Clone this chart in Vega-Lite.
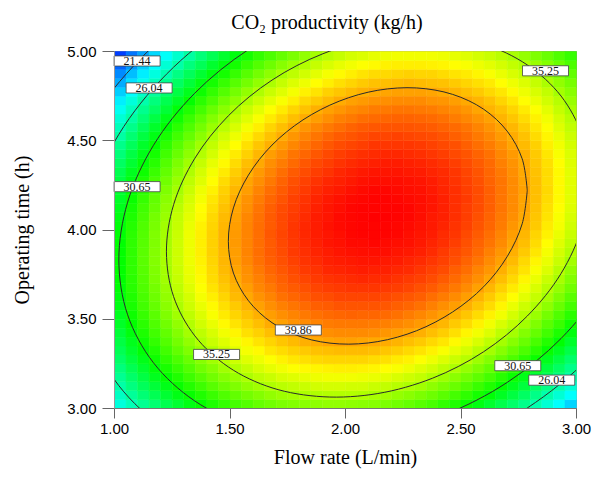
{
"$schema": "https://vega.github.io/schema/vega-lite/v6.json",
"width": 462, "height": 357,
"autosize": {"type": "none"},
"padding": {"left": 114, "top": 51, "right": 22, "bottom": 74},
"background": "white",
"title": {"text": "CO₂ productivity (kg/h)", "font": "Liberation Serif", "fontSize": 20, "fontWeight": "normal", "color": "#000", "anchor": "middle", "offset": 11, "dx": -18},
"config": {"view": {"stroke": "#999"}, "axis": {"grid": false}},
"datasets": {
"grid": [
{"x":1.025,"y":3.025,"v":24.7},{"x":1.075,"y":3.025,"v":25.7},{"x":1.125,"y":3.025,"v":26.7},{"x":1.175,"y":3.025,"v":27.6},{"x":1.225,"y":3.025,"v":28.5},{"x":1.275,"y":3.025,"v":29.3},{"x":1.325,"y":3.025,"v":30.1},{"x":1.375,"y":3.025,"v":30.7},{"x":1.425,"y":3.025,"v":31.4},{"x":1.475,"y":3.025,"v":32.0},{"x":1.525,"y":3.025,"v":32.5},{"x":1.575,"y":3.025,"v":32.9},{"x":1.625,"y":3.025,"v":33.4},{"x":1.675,"y":3.025,"v":33.7},{"x":1.725,"y":3.025,"v":34.0},{"x":1.775,"y":3.025,"v":34.2},{"x":1.825,"y":3.025,"v":34.4},{"x":1.875,"y":3.025,"v":34.5},{"x":1.925,"y":3.025,"v":34.6},{"x":1.975,"y":3.025,"v":34.6},{"x":2.025,"y":3.025,"v":34.5},{"x":2.075,"y":3.025,"v":34.4},{"x":2.125,"y":3.025,"v":34.3},{"x":2.175,"y":3.025,"v":34.0},{"x":2.225,"y":3.025,"v":33.7},{"x":2.275,"y":3.025,"v":33.4},{"x":2.325,"y":3.025,"v":33.0},{"x":2.375,"y":3.025,"v":32.6},{"x":2.425,"y":3.025,"v":32.0},{"x":2.475,"y":3.025,"v":31.5},{"x":2.525,"y":3.025,"v":30.9},{"x":2.575,"y":3.025,"v":30.2},{"x":2.625,"y":3.025,"v":29.4},{"x":2.675,"y":3.025,"v":28.6},{"x":2.725,"y":3.025,"v":27.8},{"x":2.775,"y":3.025,"v":26.9},{"x":2.825,"y":3.025,"v":25.9},{"x":2.875,"y":3.025,"v":24.9},{"x":2.925,"y":3.025,"v":23.8},{"x":2.975,"y":3.025,"v":22.6},
{"x":1.025,"y":3.075,"v":25.4},{"x":1.075,"y":3.075,"v":26.5},{"x":1.125,"y":3.075,"v":27.5},{"x":1.175,"y":3.075,"v":28.4},{"x":1.225,"y":3.075,"v":29.3},{"x":1.275,"y":3.075,"v":30.1},{"x":1.325,"y":3.075,"v":30.8},{"x":1.375,"y":3.075,"v":31.5},{"x":1.425,"y":3.075,"v":32.2},{"x":1.475,"y":3.075,"v":32.8},{"x":1.525,"y":3.075,"v":33.3},{"x":1.575,"y":3.075,"v":33.8},{"x":1.625,"y":3.075,"v":34.2},{"x":1.675,"y":3.075,"v":34.6},{"x":1.725,"y":3.075,"v":34.9},{"x":1.775,"y":3.075,"v":35.1},{"x":1.825,"y":3.075,"v":35.3},{"x":1.875,"y":3.075,"v":35.4},{"x":1.925,"y":3.075,"v":35.5},{"x":1.975,"y":3.075,"v":35.5},{"x":2.025,"y":3.075,"v":35.5},{"x":2.075,"y":3.075,"v":35.4},{"x":2.125,"y":3.075,"v":35.2},{"x":2.175,"y":3.075,"v":35.0},{"x":2.225,"y":3.075,"v":34.7},{"x":2.275,"y":3.075,"v":34.4},{"x":2.325,"y":3.075,"v":34.0},{"x":2.375,"y":3.075,"v":33.6},{"x":2.425,"y":3.075,"v":33.1},{"x":2.475,"y":3.075,"v":32.5},{"x":2.525,"y":3.075,"v":31.9},{"x":2.575,"y":3.075,"v":31.2},{"x":2.625,"y":3.075,"v":30.5},{"x":2.675,"y":3.075,"v":29.7},{"x":2.725,"y":3.075,"v":28.9},{"x":2.775,"y":3.075,"v":28.0},{"x":2.825,"y":3.075,"v":27.0},{"x":2.875,"y":3.075,"v":26.0},{"x":2.925,"y":3.075,"v":24.9},{"x":2.975,"y":3.075,"v":23.8},
{"x":1.025,"y":3.125,"v":26.1},{"x":1.075,"y":3.125,"v":27.2},{"x":1.125,"y":3.125,"v":28.2},{"x":1.175,"y":3.125,"v":29.1},{"x":1.225,"y":3.125,"v":30.0},{"x":1.275,"y":3.125,"v":30.8},{"x":1.325,"y":3.125,"v":31.6},{"x":1.375,"y":3.125,"v":32.3},{"x":1.425,"y":3.125,"v":33.0},{"x":1.475,"y":3.125,"v":33.6},{"x":1.525,"y":3.125,"v":34.1},{"x":1.575,"y":3.125,"v":34.6},{"x":1.625,"y":3.125,"v":35.0},{"x":1.675,"y":3.125,"v":35.4},{"x":1.725,"y":3.125,"v":35.7},{"x":1.775,"y":3.125,"v":35.9},{"x":1.825,"y":3.125,"v":36.1},{"x":1.875,"y":3.125,"v":36.3},{"x":1.925,"y":3.125,"v":36.4},{"x":1.975,"y":3.125,"v":36.4},{"x":2.025,"y":3.125,"v":36.3},{"x":2.075,"y":3.125,"v":36.3},{"x":2.125,"y":3.125,"v":36.1},{"x":2.175,"y":3.125,"v":35.9},{"x":2.225,"y":3.125,"v":35.6},{"x":2.275,"y":3.125,"v":35.3},{"x":2.325,"y":3.125,"v":35.0},{"x":2.375,"y":3.125,"v":34.5},{"x":2.425,"y":3.125,"v":34.0},{"x":2.475,"y":3.125,"v":33.5},{"x":2.525,"y":3.125,"v":32.9},{"x":2.575,"y":3.125,"v":32.2},{"x":2.625,"y":3.125,"v":31.5},{"x":2.675,"y":3.125,"v":30.7},{"x":2.725,"y":3.125,"v":29.9},{"x":2.775,"y":3.125,"v":29.0},{"x":2.825,"y":3.125,"v":28.0},{"x":2.875,"y":3.125,"v":27.0},{"x":2.925,"y":3.125,"v":26.0},{"x":2.975,"y":3.125,"v":24.9},
{"x":1.025,"y":3.175,"v":26.7},{"x":1.075,"y":3.175,"v":27.8},{"x":1.125,"y":3.175,"v":28.8},{"x":1.175,"y":3.175,"v":29.8},{"x":1.225,"y":3.175,"v":30.7},{"x":1.275,"y":3.175,"v":31.5},{"x":1.325,"y":3.175,"v":32.3},{"x":1.375,"y":3.175,"v":33.0},{"x":1.425,"y":3.175,"v":33.7},{"x":1.475,"y":3.175,"v":34.3},{"x":1.525,"y":3.175,"v":34.8},{"x":1.575,"y":3.175,"v":35.3},{"x":1.625,"y":3.175,"v":35.8},{"x":1.675,"y":3.175,"v":36.1},{"x":1.725,"y":3.175,"v":36.5},{"x":1.775,"y":3.175,"v":36.7},{"x":1.825,"y":3.175,"v":36.9},{"x":1.875,"y":3.175,"v":37.1},{"x":1.925,"y":3.175,"v":37.2},{"x":1.975,"y":3.175,"v":37.2},{"x":2.025,"y":3.175,"v":37.2},{"x":2.075,"y":3.175,"v":37.1},{"x":2.125,"y":3.175,"v":37.0},{"x":2.175,"y":3.175,"v":36.8},{"x":2.225,"y":3.175,"v":36.5},{"x":2.275,"y":3.175,"v":36.2},{"x":2.325,"y":3.175,"v":35.9},{"x":2.375,"y":3.175,"v":35.4},{"x":2.425,"y":3.175,"v":34.9},{"x":2.475,"y":3.175,"v":34.4},{"x":2.525,"y":3.175,"v":33.8},{"x":2.575,"y":3.175,"v":33.2},{"x":2.625,"y":3.175,"v":32.5},{"x":2.675,"y":3.175,"v":31.7},{"x":2.725,"y":3.175,"v":30.9},{"x":2.775,"y":3.175,"v":30.0},{"x":2.825,"y":3.175,"v":29.0},{"x":2.875,"y":3.175,"v":28.0},{"x":2.925,"y":3.175,"v":27.0},{"x":2.975,"y":3.175,"v":25.9},
{"x":1.025,"y":3.225,"v":27.3},{"x":1.075,"y":3.225,"v":28.4},{"x":1.125,"y":3.225,"v":29.4},{"x":1.175,"y":3.225,"v":30.4},{"x":1.225,"y":3.225,"v":31.3},{"x":1.275,"y":3.225,"v":32.1},{"x":1.325,"y":3.225,"v":32.9},{"x":1.375,"y":3.225,"v":33.7},{"x":1.425,"y":3.225,"v":34.3},{"x":1.475,"y":3.225,"v":35.0},{"x":1.525,"y":3.225,"v":35.5},{"x":1.575,"y":3.225,"v":36.0},{"x":1.625,"y":3.225,"v":36.5},{"x":1.675,"y":3.225,"v":36.9},{"x":1.725,"y":3.225,"v":37.2},{"x":1.775,"y":3.225,"v":37.5},{"x":1.825,"y":3.225,"v":37.7},{"x":1.875,"y":3.225,"v":37.8},{"x":1.925,"y":3.225,"v":37.9},{"x":1.975,"y":3.225,"v":38.0},{"x":2.025,"y":3.225,"v":38.0},{"x":2.075,"y":3.225,"v":37.9},{"x":2.125,"y":3.225,"v":37.8},{"x":2.175,"y":3.225,"v":37.6},{"x":2.225,"y":3.225,"v":37.4},{"x":2.275,"y":3.225,"v":37.1},{"x":2.325,"y":3.225,"v":36.7},{"x":2.375,"y":3.225,"v":36.3},{"x":2.425,"y":3.225,"v":35.8},{"x":2.475,"y":3.225,"v":35.3},{"x":2.525,"y":3.225,"v":34.7},{"x":2.575,"y":3.225,"v":34.1},{"x":2.625,"y":3.225,"v":33.4},{"x":2.675,"y":3.225,"v":32.6},{"x":2.725,"y":3.225,"v":31.8},{"x":2.775,"y":3.225,"v":30.9},{"x":2.825,"y":3.225,"v":30.0},{"x":2.875,"y":3.225,"v":29.0},{"x":2.925,"y":3.225,"v":28.0},{"x":2.975,"y":3.225,"v":26.9},
{"x":1.025,"y":3.275,"v":27.9},{"x":1.075,"y":3.275,"v":29.0},{"x":1.125,"y":3.275,"v":30.0},{"x":1.175,"y":3.275,"v":31.0},{"x":1.225,"y":3.275,"v":31.9},{"x":1.275,"y":3.275,"v":32.7},{"x":1.325,"y":3.275,"v":33.5},{"x":1.375,"y":3.275,"v":34.3},{"x":1.425,"y":3.275,"v":35.0},{"x":1.475,"y":3.275,"v":35.6},{"x":1.525,"y":3.275,"v":36.2},{"x":1.575,"y":3.275,"v":36.7},{"x":1.625,"y":3.275,"v":37.1},{"x":1.675,"y":3.275,"v":37.5},{"x":1.725,"y":3.275,"v":37.9},{"x":1.775,"y":3.275,"v":38.2},{"x":1.825,"y":3.275,"v":38.4},{"x":1.875,"y":3.275,"v":38.6},{"x":1.925,"y":3.275,"v":38.7},{"x":1.975,"y":3.275,"v":38.7},{"x":2.025,"y":3.275,"v":38.7},{"x":2.075,"y":3.275,"v":38.7},{"x":2.125,"y":3.275,"v":38.5},{"x":2.175,"y":3.275,"v":38.4},{"x":2.225,"y":3.275,"v":38.1},{"x":2.275,"y":3.275,"v":37.9},{"x":2.325,"y":3.275,"v":37.5},{"x":2.375,"y":3.275,"v":37.1},{"x":2.425,"y":3.275,"v":36.6},{"x":2.475,"y":3.275,"v":36.1},{"x":2.525,"y":3.275,"v":35.6},{"x":2.575,"y":3.275,"v":34.9},{"x":2.625,"y":3.275,"v":34.2},{"x":2.675,"y":3.275,"v":33.5},{"x":2.725,"y":3.275,"v":32.7},{"x":2.775,"y":3.275,"v":31.8},{"x":2.825,"y":3.275,"v":30.9},{"x":2.875,"y":3.275,"v":29.9},{"x":2.925,"y":3.275,"v":28.9},{"x":2.975,"y":3.275,"v":27.8},
{"x":1.025,"y":3.325,"v":28.4},{"x":1.075,"y":3.325,"v":29.5},{"x":1.125,"y":3.325,"v":30.5},{"x":1.175,"y":3.325,"v":31.5},{"x":1.225,"y":3.325,"v":32.4},{"x":1.275,"y":3.325,"v":33.3},{"x":1.325,"y":3.325,"v":34.1},{"x":1.375,"y":3.325,"v":34.8},{"x":1.425,"y":3.325,"v":35.5},{"x":1.475,"y":3.325,"v":36.2},{"x":1.525,"y":3.325,"v":36.8},{"x":1.575,"y":3.325,"v":37.3},{"x":1.625,"y":3.325,"v":37.7},{"x":1.675,"y":3.325,"v":38.2},{"x":1.725,"y":3.325,"v":38.5},{"x":1.775,"y":3.325,"v":38.8},{"x":1.825,"y":3.325,"v":39.0},{"x":1.875,"y":3.325,"v":39.2},{"x":1.925,"y":3.325,"v":39.3},{"x":1.975,"y":3.325,"v":39.4},{"x":2.025,"y":3.325,"v":39.4},{"x":2.075,"y":3.325,"v":39.4},{"x":2.125,"y":3.325,"v":39.3},{"x":2.175,"y":3.325,"v":39.1},{"x":2.225,"y":3.325,"v":38.9},{"x":2.275,"y":3.325,"v":38.6},{"x":2.325,"y":3.325,"v":38.3},{"x":2.375,"y":3.325,"v":37.9},{"x":2.425,"y":3.325,"v":37.4},{"x":2.475,"y":3.325,"v":36.9},{"x":2.525,"y":3.325,"v":36.4},{"x":2.575,"y":3.325,"v":35.7},{"x":2.625,"y":3.325,"v":35.1},{"x":2.675,"y":3.325,"v":34.3},{"x":2.725,"y":3.325,"v":33.5},{"x":2.775,"y":3.325,"v":32.7},{"x":2.825,"y":3.325,"v":31.8},{"x":2.875,"y":3.325,"v":30.8},{"x":2.925,"y":3.325,"v":29.8},{"x":2.975,"y":3.325,"v":28.7},
{"x":1.025,"y":3.375,"v":28.8},{"x":1.075,"y":3.375,"v":29.9},{"x":1.125,"y":3.375,"v":31.0},{"x":1.175,"y":3.375,"v":32.0},{"x":1.225,"y":3.375,"v":32.9},{"x":1.275,"y":3.375,"v":33.8},{"x":1.325,"y":3.375,"v":34.6},{"x":1.375,"y":3.375,"v":35.4},{"x":1.425,"y":3.375,"v":36.1},{"x":1.475,"y":3.375,"v":36.7},{"x":1.525,"y":3.375,"v":37.3},{"x":1.575,"y":3.375,"v":37.8},{"x":1.625,"y":3.375,"v":38.3},{"x":1.675,"y":3.375,"v":38.7},{"x":1.725,"y":3.375,"v":39.1},{"x":1.775,"y":3.375,"v":39.4},{"x":1.825,"y":3.375,"v":39.7},{"x":1.875,"y":3.375,"v":39.8},{"x":1.925,"y":3.375,"v":40.0},{"x":1.975,"y":3.375,"v":40.1},{"x":2.025,"y":3.375,"v":40.1},{"x":2.075,"y":3.375,"v":40.0},{"x":2.125,"y":3.375,"v":39.9},{"x":2.175,"y":3.375,"v":39.8},{"x":2.225,"y":3.375,"v":39.6},{"x":2.275,"y":3.375,"v":39.3},{"x":2.325,"y":3.375,"v":39.0},{"x":2.375,"y":3.375,"v":38.6},{"x":2.425,"y":3.375,"v":38.2},{"x":2.475,"y":3.375,"v":37.7},{"x":2.525,"y":3.375,"v":37.1},{"x":2.575,"y":3.375,"v":36.5},{"x":2.625,"y":3.375,"v":35.8},{"x":2.675,"y":3.375,"v":35.1},{"x":2.725,"y":3.375,"v":34.3},{"x":2.775,"y":3.375,"v":33.5},{"x":2.825,"y":3.375,"v":32.6},{"x":2.875,"y":3.375,"v":31.6},{"x":2.925,"y":3.375,"v":30.6},{"x":2.975,"y":3.375,"v":29.5},
{"x":1.025,"y":3.425,"v":29.2},{"x":1.075,"y":3.425,"v":30.3},{"x":1.125,"y":3.425,"v":31.4},{"x":1.175,"y":3.425,"v":32.4},{"x":1.225,"y":3.425,"v":33.3},{"x":1.275,"y":3.425,"v":34.2},{"x":1.325,"y":3.425,"v":35.1},{"x":1.375,"y":3.425,"v":35.8},{"x":1.425,"y":3.425,"v":36.5},{"x":1.475,"y":3.425,"v":37.2},{"x":1.525,"y":3.425,"v":37.8},{"x":1.575,"y":3.425,"v":38.4},{"x":1.625,"y":3.425,"v":38.8},{"x":1.675,"y":3.425,"v":39.3},{"x":1.725,"y":3.425,"v":39.6},{"x":1.775,"y":3.425,"v":40.0},{"x":1.825,"y":3.425,"v":40.2},{"x":1.875,"y":3.425,"v":40.4},{"x":1.925,"y":3.425,"v":40.6},{"x":1.975,"y":3.425,"v":40.7},{"x":2.025,"y":3.425,"v":40.7},{"x":2.075,"y":3.425,"v":40.7},{"x":2.125,"y":3.425,"v":40.6},{"x":2.175,"y":3.425,"v":40.4},{"x":2.225,"y":3.425,"v":40.2},{"x":2.275,"y":3.425,"v":40.0},{"x":2.325,"y":3.425,"v":39.7},{"x":2.375,"y":3.425,"v":39.3},{"x":2.425,"y":3.425,"v":38.9},{"x":2.475,"y":3.425,"v":38.4},{"x":2.525,"y":3.425,"v":37.8},{"x":2.575,"y":3.425,"v":37.2},{"x":2.625,"y":3.425,"v":36.6},{"x":2.675,"y":3.425,"v":35.8},{"x":2.725,"y":3.425,"v":35.1},{"x":2.775,"y":3.425,"v":34.2},{"x":2.825,"y":3.425,"v":33.4},{"x":2.875,"y":3.425,"v":32.4},{"x":2.925,"y":3.425,"v":31.4},{"x":2.975,"y":3.425,"v":30.3},
{"x":1.025,"y":3.475,"v":29.6},{"x":1.075,"y":3.475,"v":30.7},{"x":1.125,"y":3.475,"v":31.8},{"x":1.175,"y":3.475,"v":32.8},{"x":1.225,"y":3.475,"v":33.7},{"x":1.275,"y":3.475,"v":34.6},{"x":1.325,"y":3.475,"v":35.5},{"x":1.375,"y":3.475,"v":36.3},{"x":1.425,"y":3.475,"v":37.0},{"x":1.475,"y":3.475,"v":37.7},{"x":1.525,"y":3.475,"v":38.3},{"x":1.575,"y":3.475,"v":38.8},{"x":1.625,"y":3.475,"v":39.3},{"x":1.675,"y":3.475,"v":39.8},{"x":1.725,"y":3.475,"v":40.1},{"x":1.775,"y":3.475,"v":40.5},{"x":1.825,"y":3.475,"v":40.7},{"x":1.875,"y":3.475,"v":40.9},{"x":1.925,"y":3.475,"v":41.1},{"x":1.975,"y":3.475,"v":41.2},{"x":2.025,"y":3.475,"v":41.2},{"x":2.075,"y":3.475,"v":41.2},{"x":2.125,"y":3.475,"v":41.1},{"x":2.175,"y":3.475,"v":41.0},{"x":2.225,"y":3.475,"v":40.8},{"x":2.275,"y":3.475,"v":40.6},{"x":2.325,"y":3.475,"v":40.3},{"x":2.375,"y":3.475,"v":39.9},{"x":2.425,"y":3.475,"v":39.5},{"x":2.475,"y":3.475,"v":39.0},{"x":2.525,"y":3.475,"v":38.5},{"x":2.575,"y":3.475,"v":37.9},{"x":2.625,"y":3.475,"v":37.2},{"x":2.675,"y":3.475,"v":36.5},{"x":2.725,"y":3.475,"v":35.8},{"x":2.775,"y":3.475,"v":35.0},{"x":2.825,"y":3.475,"v":34.1},{"x":2.875,"y":3.475,"v":33.1},{"x":2.925,"y":3.475,"v":32.2},{"x":2.975,"y":3.475,"v":31.1},
{"x":1.025,"y":3.525,"v":29.9},{"x":1.075,"y":3.525,"v":31.0},{"x":1.125,"y":3.525,"v":32.1},{"x":1.175,"y":3.525,"v":33.1},{"x":1.225,"y":3.525,"v":34.1},{"x":1.275,"y":3.525,"v":35.0},{"x":1.325,"y":3.525,"v":35.8},{"x":1.375,"y":3.525,"v":36.6},{"x":1.425,"y":3.525,"v":37.4},{"x":1.475,"y":3.525,"v":38.1},{"x":1.525,"y":3.525,"v":38.7},{"x":1.575,"y":3.525,"v":39.2},{"x":1.625,"y":3.525,"v":39.7},{"x":1.675,"y":3.525,"v":40.2},{"x":1.725,"y":3.525,"v":40.6},{"x":1.775,"y":3.525,"v":40.9},{"x":1.825,"y":3.525,"v":41.2},{"x":1.875,"y":3.525,"v":41.4},{"x":1.925,"y":3.525,"v":41.6},{"x":1.975,"y":3.525,"v":41.7},{"x":2.025,"y":3.525,"v":41.8},{"x":2.075,"y":3.525,"v":41.7},{"x":2.125,"y":3.525,"v":41.7},{"x":2.175,"y":3.525,"v":41.6},{"x":2.225,"y":3.525,"v":41.4},{"x":2.275,"y":3.525,"v":41.1},{"x":2.325,"y":3.525,"v":40.8},{"x":2.375,"y":3.525,"v":40.5},{"x":2.425,"y":3.525,"v":40.1},{"x":2.475,"y":3.525,"v":39.6},{"x":2.525,"y":3.525,"v":39.1},{"x":2.575,"y":3.525,"v":38.5},{"x":2.625,"y":3.525,"v":37.9},{"x":2.675,"y":3.525,"v":37.2},{"x":2.725,"y":3.525,"v":36.4},{"x":2.775,"y":3.525,"v":35.6},{"x":2.825,"y":3.525,"v":34.8},{"x":2.875,"y":3.525,"v":33.8},{"x":2.925,"y":3.525,"v":32.8},{"x":2.975,"y":3.525,"v":31.8},
{"x":1.025,"y":3.575,"v":30.1},{"x":1.075,"y":3.575,"v":31.3},{"x":1.125,"y":3.575,"v":32.4},{"x":1.175,"y":3.575,"v":33.4},{"x":1.225,"y":3.575,"v":34.4},{"x":1.275,"y":3.575,"v":35.3},{"x":1.325,"y":3.575,"v":36.2},{"x":1.375,"y":3.575,"v":37.0},{"x":1.425,"y":3.575,"v":37.7},{"x":1.475,"y":3.575,"v":38.4},{"x":1.525,"y":3.575,"v":39.0},{"x":1.575,"y":3.575,"v":39.6},{"x":1.625,"y":3.575,"v":40.1},{"x":1.675,"y":3.575,"v":40.6},{"x":1.725,"y":3.575,"v":41.0},{"x":1.775,"y":3.575,"v":41.3},{"x":1.825,"y":3.575,"v":41.6},{"x":1.875,"y":3.575,"v":41.9},{"x":1.925,"y":3.575,"v":42.0},{"x":1.975,"y":3.575,"v":42.2},{"x":2.025,"y":3.575,"v":42.2},{"x":2.075,"y":3.575,"v":42.2},{"x":2.125,"y":3.575,"v":42.2},{"x":2.175,"y":3.575,"v":42.1},{"x":2.225,"y":3.575,"v":41.9},{"x":2.275,"y":3.575,"v":41.7},{"x":2.325,"y":3.575,"v":41.4},{"x":2.375,"y":3.575,"v":41.0},{"x":2.425,"y":3.575,"v":40.6},{"x":2.475,"y":3.575,"v":40.2},{"x":2.525,"y":3.575,"v":39.7},{"x":2.575,"y":3.575,"v":39.1},{"x":2.625,"y":3.575,"v":38.5},{"x":2.675,"y":3.575,"v":37.8},{"x":2.725,"y":3.575,"v":37.0},{"x":2.775,"y":3.575,"v":36.2},{"x":2.825,"y":3.575,"v":35.4},{"x":2.875,"y":3.575,"v":34.5},{"x":2.925,"y":3.575,"v":33.5},{"x":2.975,"y":3.575,"v":32.5},
{"x":1.025,"y":3.625,"v":30.3},{"x":1.075,"y":3.625,"v":31.5},{"x":1.125,"y":3.625,"v":32.6},{"x":1.175,"y":3.625,"v":33.6},{"x":1.225,"y":3.625,"v":34.6},{"x":1.275,"y":3.625,"v":35.6},{"x":1.325,"y":3.625,"v":36.4},{"x":1.375,"y":3.625,"v":37.3},{"x":1.425,"y":3.625,"v":38.0},{"x":1.475,"y":3.625,"v":38.7},{"x":1.525,"y":3.625,"v":39.4},{"x":1.575,"y":3.625,"v":39.9},{"x":1.625,"y":3.625,"v":40.5},{"x":1.675,"y":3.625,"v":40.9},{"x":1.725,"y":3.625,"v":41.4},{"x":1.775,"y":3.625,"v":41.7},{"x":1.825,"y":3.625,"v":42.0},{"x":1.875,"y":3.625,"v":42.3},{"x":1.925,"y":3.625,"v":42.4},{"x":1.975,"y":3.625,"v":42.6},{"x":2.025,"y":3.625,"v":42.6},{"x":2.075,"y":3.625,"v":42.6},{"x":2.125,"y":3.625,"v":42.6},{"x":2.175,"y":3.625,"v":42.5},{"x":2.225,"y":3.625,"v":42.3},{"x":2.275,"y":3.625,"v":42.1},{"x":2.325,"y":3.625,"v":41.9},{"x":2.375,"y":3.625,"v":41.5},{"x":2.425,"y":3.625,"v":41.1},{"x":2.475,"y":3.625,"v":40.7},{"x":2.525,"y":3.625,"v":40.2},{"x":2.575,"y":3.625,"v":39.6},{"x":2.625,"y":3.625,"v":39.0},{"x":2.675,"y":3.625,"v":38.3},{"x":2.725,"y":3.625,"v":37.6},{"x":2.775,"y":3.625,"v":36.8},{"x":2.825,"y":3.625,"v":36.0},{"x":2.875,"y":3.625,"v":35.1},{"x":2.925,"y":3.625,"v":34.1},{"x":2.975,"y":3.625,"v":33.1},
{"x":1.025,"y":3.675,"v":30.5},{"x":1.075,"y":3.675,"v":31.7},{"x":1.125,"y":3.675,"v":32.8},{"x":1.175,"y":3.675,"v":33.8},{"x":1.225,"y":3.675,"v":34.8},{"x":1.275,"y":3.675,"v":35.8},{"x":1.325,"y":3.675,"v":36.7},{"x":1.375,"y":3.675,"v":37.5},{"x":1.425,"y":3.675,"v":38.3},{"x":1.475,"y":3.675,"v":39.0},{"x":1.525,"y":3.675,"v":39.6},{"x":1.575,"y":3.675,"v":40.2},{"x":1.625,"y":3.675,"v":40.8},{"x":1.675,"y":3.675,"v":41.2},{"x":1.725,"y":3.675,"v":41.7},{"x":1.775,"y":3.675,"v":42.0},{"x":1.825,"y":3.675,"v":42.3},{"x":1.875,"y":3.675,"v":42.6},{"x":1.925,"y":3.675,"v":42.8},{"x":1.975,"y":3.675,"v":42.9},{"x":2.025,"y":3.675,"v":43.0},{"x":2.075,"y":3.675,"v":43.0},{"x":2.125,"y":3.675,"v":43.0},{"x":2.175,"y":3.675,"v":42.9},{"x":2.225,"y":3.675,"v":42.8},{"x":2.275,"y":3.675,"v":42.6},{"x":2.325,"y":3.675,"v":42.3},{"x":2.375,"y":3.675,"v":42.0},{"x":2.425,"y":3.675,"v":41.6},{"x":2.475,"y":3.675,"v":41.2},{"x":2.525,"y":3.675,"v":40.7},{"x":2.575,"y":3.675,"v":40.1},{"x":2.625,"y":3.675,"v":39.5},{"x":2.675,"y":3.675,"v":38.8},{"x":2.725,"y":3.675,"v":38.1},{"x":2.775,"y":3.675,"v":37.3},{"x":2.825,"y":3.675,"v":36.5},{"x":2.875,"y":3.675,"v":35.6},{"x":2.925,"y":3.675,"v":34.7},{"x":2.975,"y":3.675,"v":33.7},
{"x":1.025,"y":3.725,"v":30.6},{"x":1.075,"y":3.725,"v":31.8},{"x":1.125,"y":3.725,"v":32.9},{"x":1.175,"y":3.725,"v":34.0},{"x":1.225,"y":3.725,"v":35.0},{"x":1.275,"y":3.725,"v":36.0},{"x":1.325,"y":3.725,"v":36.9},{"x":1.375,"y":3.725,"v":37.7},{"x":1.425,"y":3.725,"v":38.5},{"x":1.475,"y":3.725,"v":39.2},{"x":1.525,"y":3.725,"v":39.8},{"x":1.575,"y":3.725,"v":40.5},{"x":1.625,"y":3.725,"v":41.0},{"x":1.675,"y":3.725,"v":41.5},{"x":1.725,"y":3.725,"v":41.9},{"x":1.775,"y":3.725,"v":42.3},{"x":1.825,"y":3.725,"v":42.6},{"x":1.875,"y":3.725,"v":42.9},{"x":1.925,"y":3.725,"v":43.1},{"x":1.975,"y":3.725,"v":43.2},{"x":2.025,"y":3.725,"v":43.3},{"x":2.075,"y":3.725,"v":43.4},{"x":2.125,"y":3.725,"v":43.3},{"x":2.175,"y":3.725,"v":43.3},{"x":2.225,"y":3.725,"v":43.1},{"x":2.275,"y":3.725,"v":42.9},{"x":2.325,"y":3.725,"v":42.7},{"x":2.375,"y":3.725,"v":42.4},{"x":2.425,"y":3.725,"v":42.0},{"x":2.475,"y":3.725,"v":41.6},{"x":2.525,"y":3.725,"v":41.1},{"x":2.575,"y":3.725,"v":40.6},{"x":2.625,"y":3.725,"v":40.0},{"x":2.675,"y":3.725,"v":39.3},{"x":2.725,"y":3.725,"v":38.6},{"x":2.775,"y":3.725,"v":37.8},{"x":2.825,"y":3.725,"v":37.0},{"x":2.875,"y":3.725,"v":36.1},{"x":2.925,"y":3.725,"v":35.2},{"x":2.975,"y":3.725,"v":34.2},
{"x":1.025,"y":3.775,"v":30.7},{"x":1.075,"y":3.775,"v":31.9},{"x":1.125,"y":3.775,"v":33.0},{"x":1.175,"y":3.775,"v":34.1},{"x":1.225,"y":3.775,"v":35.1},{"x":1.275,"y":3.775,"v":36.1},{"x":1.325,"y":3.775,"v":37.0},{"x":1.375,"y":3.775,"v":37.8},{"x":1.425,"y":3.775,"v":38.6},{"x":1.475,"y":3.775,"v":39.4},{"x":1.525,"y":3.775,"v":40.0},{"x":1.575,"y":3.775,"v":40.6},{"x":1.625,"y":3.775,"v":41.2},{"x":1.675,"y":3.775,"v":41.7},{"x":1.725,"y":3.775,"v":42.1},{"x":1.775,"y":3.775,"v":42.5},{"x":1.825,"y":3.775,"v":42.9},{"x":1.875,"y":3.775,"v":43.1},{"x":1.925,"y":3.775,"v":43.4},{"x":1.975,"y":3.775,"v":43.5},{"x":2.025,"y":3.775,"v":43.6},{"x":2.075,"y":3.775,"v":43.7},{"x":2.125,"y":3.775,"v":43.6},{"x":2.175,"y":3.775,"v":43.6},{"x":2.225,"y":3.775,"v":43.4},{"x":2.275,"y":3.775,"v":43.3},{"x":2.325,"y":3.775,"v":43.0},{"x":2.375,"y":3.775,"v":42.7},{"x":2.425,"y":3.775,"v":42.4},{"x":2.475,"y":3.775,"v":41.9},{"x":2.525,"y":3.775,"v":41.5},{"x":2.575,"y":3.775,"v":40.9},{"x":2.625,"y":3.775,"v":40.4},{"x":2.675,"y":3.775,"v":39.7},{"x":2.725,"y":3.775,"v":39.0},{"x":2.775,"y":3.775,"v":38.3},{"x":2.825,"y":3.775,"v":37.4},{"x":2.875,"y":3.775,"v":36.6},{"x":2.925,"y":3.775,"v":35.6},{"x":2.975,"y":3.775,"v":34.6},
{"x":1.025,"y":3.825,"v":30.7},{"x":1.075,"y":3.825,"v":31.9},{"x":1.125,"y":3.825,"v":33.1},{"x":1.175,"y":3.825,"v":34.2},{"x":1.225,"y":3.825,"v":35.2},{"x":1.275,"y":3.825,"v":36.2},{"x":1.325,"y":3.825,"v":37.1},{"x":1.375,"y":3.825,"v":37.9},{"x":1.425,"y":3.825,"v":38.7},{"x":1.475,"y":3.825,"v":39.5},{"x":1.525,"y":3.825,"v":40.2},{"x":1.575,"y":3.825,"v":40.8},{"x":1.625,"y":3.825,"v":41.4},{"x":1.675,"y":3.825,"v":41.9},{"x":1.725,"y":3.825,"v":42.3},{"x":1.775,"y":3.825,"v":42.7},{"x":1.825,"y":3.825,"v":43.1},{"x":1.875,"y":3.825,"v":43.3},{"x":1.925,"y":3.825,"v":43.6},{"x":1.975,"y":3.825,"v":43.7},{"x":2.025,"y":3.825,"v":43.8},{"x":2.075,"y":3.825,"v":43.9},{"x":2.125,"y":3.825,"v":43.9},{"x":2.175,"y":3.825,"v":43.8},{"x":2.225,"y":3.825,"v":43.7},{"x":2.275,"y":3.825,"v":43.5},{"x":2.325,"y":3.825,"v":43.3},{"x":2.375,"y":3.825,"v":43.0},{"x":2.425,"y":3.825,"v":42.7},{"x":2.475,"y":3.825,"v":42.3},{"x":2.525,"y":3.825,"v":41.8},{"x":2.575,"y":3.825,"v":41.3},{"x":2.625,"y":3.825,"v":40.7},{"x":2.675,"y":3.825,"v":40.1},{"x":2.725,"y":3.825,"v":39.4},{"x":2.775,"y":3.825,"v":38.6},{"x":2.825,"y":3.825,"v":37.8},{"x":2.875,"y":3.825,"v":37.0},{"x":2.925,"y":3.825,"v":36.1},{"x":2.975,"y":3.825,"v":35.1},
{"x":1.025,"y":3.875,"v":30.7},{"x":1.075,"y":3.875,"v":31.9},{"x":1.125,"y":3.875,"v":33.1},{"x":1.175,"y":3.875,"v":34.2},{"x":1.225,"y":3.875,"v":35.2},{"x":1.275,"y":3.875,"v":36.2},{"x":1.325,"y":3.875,"v":37.1},{"x":1.375,"y":3.875,"v":38.0},{"x":1.425,"y":3.875,"v":38.8},{"x":1.475,"y":3.875,"v":39.5},{"x":1.525,"y":3.875,"v":40.2},{"x":1.575,"y":3.875,"v":40.9},{"x":1.625,"y":3.875,"v":41.5},{"x":1.675,"y":3.875,"v":42.0},{"x":1.725,"y":3.875,"v":42.4},{"x":1.775,"y":3.875,"v":42.9},{"x":1.825,"y":3.875,"v":43.2},{"x":1.875,"y":3.875,"v":43.5},{"x":1.925,"y":3.875,"v":43.7},{"x":1.975,"y":3.875,"v":43.9},{"x":2.025,"y":3.875,"v":44.0},{"x":2.075,"y":3.875,"v":44.1},{"x":2.125,"y":3.875,"v":44.1},{"x":2.175,"y":3.875,"v":44.1},{"x":2.225,"y":3.875,"v":43.9},{"x":2.275,"y":3.875,"v":43.8},{"x":2.325,"y":3.875,"v":43.6},{"x":2.375,"y":3.875,"v":43.3},{"x":2.425,"y":3.875,"v":42.9},{"x":2.475,"y":3.875,"v":42.5},{"x":2.525,"y":3.875,"v":42.1},{"x":2.575,"y":3.875,"v":41.6},{"x":2.625,"y":3.875,"v":41.0},{"x":2.675,"y":3.875,"v":40.4},{"x":2.725,"y":3.875,"v":39.7},{"x":2.775,"y":3.875,"v":39.0},{"x":2.825,"y":3.875,"v":38.2},{"x":2.875,"y":3.875,"v":37.3},{"x":2.925,"y":3.875,"v":36.4},{"x":2.975,"y":3.875,"v":35.5},
{"x":1.025,"y":3.925,"v":30.6},{"x":1.075,"y":3.925,"v":31.9},{"x":1.125,"y":3.925,"v":33.0},{"x":1.175,"y":3.925,"v":34.1},{"x":1.225,"y":3.925,"v":35.2},{"x":1.275,"y":3.925,"v":36.2},{"x":1.325,"y":3.925,"v":37.1},{"x":1.375,"y":3.925,"v":38.0},{"x":1.425,"y":3.925,"v":38.8},{"x":1.475,"y":3.925,"v":39.6},{"x":1.525,"y":3.925,"v":40.3},{"x":1.575,"y":3.925,"v":40.9},{"x":1.625,"y":3.925,"v":41.5},{"x":1.675,"y":3.925,"v":42.0},{"x":1.725,"y":3.925,"v":42.5},{"x":1.775,"y":3.925,"v":42.9},{"x":1.825,"y":3.925,"v":43.3},{"x":1.875,"y":3.925,"v":43.6},{"x":1.925,"y":3.925,"v":43.9},{"x":1.975,"y":3.925,"v":44.0},{"x":2.025,"y":3.925,"v":44.2},{"x":2.075,"y":3.925,"v":44.2},{"x":2.125,"y":3.925,"v":44.3},{"x":2.175,"y":3.925,"v":44.2},{"x":2.225,"y":3.925,"v":44.1},{"x":2.275,"y":3.925,"v":44.0},{"x":2.325,"y":3.925,"v":43.8},{"x":2.375,"y":3.925,"v":43.5},{"x":2.425,"y":3.925,"v":43.2},{"x":2.475,"y":3.925,"v":42.8},{"x":2.525,"y":3.925,"v":42.3},{"x":2.575,"y":3.925,"v":41.8},{"x":2.625,"y":3.925,"v":41.3},{"x":2.675,"y":3.925,"v":40.7},{"x":2.725,"y":3.925,"v":40.0},{"x":2.775,"y":3.925,"v":39.3},{"x":2.825,"y":3.925,"v":38.5},{"x":2.875,"y":3.925,"v":37.6},{"x":2.925,"y":3.925,"v":36.7},{"x":2.975,"y":3.925,"v":35.8},
{"x":1.025,"y":3.975,"v":30.5},{"x":1.075,"y":3.975,"v":31.8},{"x":1.125,"y":3.975,"v":32.9},{"x":1.175,"y":3.975,"v":34.1},{"x":1.225,"y":3.975,"v":35.1},{"x":1.275,"y":3.975,"v":36.1},{"x":1.325,"y":3.975,"v":37.1},{"x":1.375,"y":3.975,"v":38.0},{"x":1.425,"y":3.975,"v":38.8},{"x":1.475,"y":3.975,"v":39.6},{"x":1.525,"y":3.975,"v":40.3},{"x":1.575,"y":3.975,"v":40.9},{"x":1.625,"y":3.975,"v":41.5},{"x":1.675,"y":3.975,"v":42.1},{"x":1.725,"y":3.975,"v":42.6},{"x":1.775,"y":3.975,"v":43.0},{"x":1.825,"y":3.975,"v":43.4},{"x":1.875,"y":3.975,"v":43.7},{"x":1.925,"y":3.975,"v":43.9},{"x":1.975,"y":3.975,"v":44.1},{"x":2.025,"y":3.975,"v":44.3},{"x":2.075,"y":3.975,"v":44.4},{"x":2.125,"y":3.975,"v":44.4},{"x":2.175,"y":3.975,"v":44.4},{"x":2.225,"y":3.975,"v":44.3},{"x":2.275,"y":3.975,"v":44.1},{"x":2.325,"y":3.975,"v":43.9},{"x":2.375,"y":3.975,"v":43.7},{"x":2.425,"y":3.975,"v":43.3},{"x":2.475,"y":3.975,"v":43.0},{"x":2.525,"y":3.975,"v":42.5},{"x":2.575,"y":3.975,"v":42.0},{"x":2.625,"y":3.975,"v":41.5},{"x":2.675,"y":3.975,"v":40.9},{"x":2.725,"y":3.975,"v":40.2},{"x":2.775,"y":3.975,"v":39.5},{"x":2.825,"y":3.975,"v":38.7},{"x":2.875,"y":3.975,"v":37.9},{"x":2.925,"y":3.975,"v":37.0},{"x":2.975,"y":3.975,"v":36.1},
{"x":1.025,"y":4.025,"v":30.4},{"x":1.075,"y":4.025,"v":31.6},{"x":1.125,"y":4.025,"v":32.8},{"x":1.175,"y":4.025,"v":33.9},{"x":1.225,"y":4.025,"v":35.0},{"x":1.275,"y":4.025,"v":36.0},{"x":1.325,"y":4.025,"v":37.0},{"x":1.375,"y":4.025,"v":37.9},{"x":1.425,"y":4.025,"v":38.7},{"x":1.475,"y":4.025,"v":39.5},{"x":1.525,"y":4.025,"v":40.2},{"x":1.575,"y":4.025,"v":40.9},{"x":1.625,"y":4.025,"v":41.5},{"x":1.675,"y":4.025,"v":42.0},{"x":1.725,"y":4.025,"v":42.5},{"x":1.775,"y":4.025,"v":43.0},{"x":1.825,"y":4.025,"v":43.4},{"x":1.875,"y":4.025,"v":43.7},{"x":1.925,"y":4.025,"v":44.0},{"x":1.975,"y":4.025,"v":44.2},{"x":2.025,"y":4.025,"v":44.3},{"x":2.075,"y":4.025,"v":44.4},{"x":2.125,"y":4.025,"v":44.4},{"x":2.175,"y":4.025,"v":44.4},{"x":2.225,"y":4.025,"v":44.3},{"x":2.275,"y":4.025,"v":44.2},{"x":2.325,"y":4.025,"v":44.0},{"x":2.375,"y":4.025,"v":43.8},{"x":2.425,"y":4.025,"v":43.5},{"x":2.475,"y":4.025,"v":43.1},{"x":2.525,"y":4.025,"v":42.7},{"x":2.575,"y":4.025,"v":42.2},{"x":2.625,"y":4.025,"v":41.7},{"x":2.675,"y":4.025,"v":41.1},{"x":2.725,"y":4.025,"v":40.4},{"x":2.775,"y":4.025,"v":39.7},{"x":2.825,"y":4.025,"v":39.0},{"x":2.875,"y":4.025,"v":38.1},{"x":2.925,"y":4.025,"v":37.3},{"x":2.975,"y":4.025,"v":36.3},
{"x":1.025,"y":4.075,"v":30.2},{"x":1.075,"y":4.075,"v":31.4},{"x":1.125,"y":4.075,"v":32.6},{"x":1.175,"y":4.075,"v":33.8},{"x":1.225,"y":4.075,"v":34.8},{"x":1.275,"y":4.075,"v":35.9},{"x":1.325,"y":4.075,"v":36.8},{"x":1.375,"y":4.075,"v":37.7},{"x":1.425,"y":4.075,"v":38.6},{"x":1.475,"y":4.075,"v":39.4},{"x":1.525,"y":4.075,"v":40.1},{"x":1.575,"y":4.075,"v":40.8},{"x":1.625,"y":4.075,"v":41.4},{"x":1.675,"y":4.075,"v":42.0},{"x":1.725,"y":4.075,"v":42.5},{"x":1.775,"y":4.075,"v":42.9},{"x":1.825,"y":4.075,"v":43.3},{"x":1.875,"y":4.075,"v":43.7},{"x":1.925,"y":4.075,"v":43.9},{"x":1.975,"y":4.075,"v":44.2},{"x":2.025,"y":4.075,"v":44.3},{"x":2.075,"y":4.075,"v":44.4},{"x":2.125,"y":4.075,"v":44.5},{"x":2.175,"y":4.075,"v":44.5},{"x":2.225,"y":4.075,"v":44.4},{"x":2.275,"y":4.075,"v":44.3},{"x":2.325,"y":4.075,"v":44.1},{"x":2.375,"y":4.075,"v":43.8},{"x":2.425,"y":4.075,"v":43.6},{"x":2.475,"y":4.075,"v":43.2},{"x":2.525,"y":4.075,"v":42.8},{"x":2.575,"y":4.075,"v":42.3},{"x":2.625,"y":4.075,"v":41.8},{"x":2.675,"y":4.075,"v":41.2},{"x":2.725,"y":4.075,"v":40.6},{"x":2.775,"y":4.075,"v":39.9},{"x":2.825,"y":4.075,"v":39.1},{"x":2.875,"y":4.075,"v":38.3},{"x":2.925,"y":4.075,"v":37.4},{"x":2.975,"y":4.075,"v":36.5},
{"x":1.025,"y":4.125,"v":29.9},{"x":1.075,"y":4.125,"v":31.2},{"x":1.125,"y":4.125,"v":32.4},{"x":1.175,"y":4.125,"v":33.5},{"x":1.225,"y":4.125,"v":34.6},{"x":1.275,"y":4.125,"v":35.7},{"x":1.325,"y":4.125,"v":36.6},{"x":1.375,"y":4.125,"v":37.6},{"x":1.425,"y":4.125,"v":38.4},{"x":1.475,"y":4.125,"v":39.2},{"x":1.525,"y":4.125,"v":40.0},{"x":1.575,"y":4.125,"v":40.6},{"x":1.625,"y":4.125,"v":41.3},{"x":1.675,"y":4.125,"v":41.9},{"x":1.725,"y":4.125,"v":42.4},{"x":1.775,"y":4.125,"v":42.8},{"x":1.825,"y":4.125,"v":43.2},{"x":1.875,"y":4.125,"v":43.6},{"x":1.925,"y":4.125,"v":43.9},{"x":1.975,"y":4.125,"v":44.1},{"x":2.025,"y":4.125,"v":44.3},{"x":2.075,"y":4.125,"v":44.4},{"x":2.125,"y":4.125,"v":44.4},{"x":2.175,"y":4.125,"v":44.4},{"x":2.225,"y":4.125,"v":44.4},{"x":2.275,"y":4.125,"v":44.3},{"x":2.325,"y":4.125,"v":44.1},{"x":2.375,"y":4.125,"v":43.9},{"x":2.425,"y":4.125,"v":43.6},{"x":2.475,"y":4.125,"v":43.2},{"x":2.525,"y":4.125,"v":42.8},{"x":2.575,"y":4.125,"v":42.4},{"x":2.625,"y":4.125,"v":41.9},{"x":2.675,"y":4.125,"v":41.3},{"x":2.725,"y":4.125,"v":40.7},{"x":2.775,"y":4.125,"v":40.0},{"x":2.825,"y":4.125,"v":39.2},{"x":2.875,"y":4.125,"v":38.4},{"x":2.925,"y":4.125,"v":37.6},{"x":2.975,"y":4.125,"v":36.7},
{"x":1.025,"y":4.175,"v":29.6},{"x":1.075,"y":4.175,"v":30.9},{"x":1.125,"y":4.175,"v":32.1},{"x":1.175,"y":4.175,"v":33.3},{"x":1.225,"y":4.175,"v":34.4},{"x":1.275,"y":4.175,"v":35.4},{"x":1.325,"y":4.175,"v":36.4},{"x":1.375,"y":4.175,"v":37.3},{"x":1.425,"y":4.175,"v":38.2},{"x":1.475,"y":4.175,"v":39.0},{"x":1.525,"y":4.175,"v":39.8},{"x":1.575,"y":4.175,"v":40.5},{"x":1.625,"y":4.175,"v":41.1},{"x":1.675,"y":4.175,"v":41.7},{"x":1.725,"y":4.175,"v":42.2},{"x":1.775,"y":4.175,"v":42.7},{"x":1.825,"y":4.175,"v":43.1},{"x":1.875,"y":4.175,"v":43.5},{"x":1.925,"y":4.175,"v":43.8},{"x":1.975,"y":4.175,"v":44.0},{"x":2.025,"y":4.175,"v":44.2},{"x":2.075,"y":4.175,"v":44.3},{"x":2.125,"y":4.175,"v":44.4},{"x":2.175,"y":4.175,"v":44.4},{"x":2.225,"y":4.175,"v":44.3},{"x":2.275,"y":4.175,"v":44.2},{"x":2.325,"y":4.175,"v":44.1},{"x":2.375,"y":4.175,"v":43.9},{"x":2.425,"y":4.175,"v":43.6},{"x":2.475,"y":4.175,"v":43.2},{"x":2.525,"y":4.175,"v":42.9},{"x":2.575,"y":4.175,"v":42.4},{"x":2.625,"y":4.175,"v":41.9},{"x":2.675,"y":4.175,"v":41.3},{"x":2.725,"y":4.175,"v":40.7},{"x":2.775,"y":4.175,"v":40.0},{"x":2.825,"y":4.175,"v":39.3},{"x":2.875,"y":4.175,"v":38.5},{"x":2.925,"y":4.175,"v":37.7},{"x":2.975,"y":4.175,"v":36.8},
{"x":1.025,"y":4.225,"v":29.3},{"x":1.075,"y":4.225,"v":30.6},{"x":1.125,"y":4.225,"v":31.8},{"x":1.175,"y":4.225,"v":33.0},{"x":1.225,"y":4.225,"v":34.1},{"x":1.275,"y":4.225,"v":35.1},{"x":1.325,"y":4.225,"v":36.1},{"x":1.375,"y":4.225,"v":37.1},{"x":1.425,"y":4.225,"v":37.9},{"x":1.475,"y":4.225,"v":38.8},{"x":1.525,"y":4.225,"v":39.5},{"x":1.575,"y":4.225,"v":40.2},{"x":1.625,"y":4.225,"v":40.9},{"x":1.675,"y":4.225,"v":41.5},{"x":1.725,"y":4.225,"v":42.0},{"x":1.775,"y":4.225,"v":42.5},{"x":1.825,"y":4.225,"v":42.9},{"x":1.875,"y":4.225,"v":43.3},{"x":1.925,"y":4.225,"v":43.6},{"x":1.975,"y":4.225,"v":43.8},{"x":2.025,"y":4.225,"v":44.0},{"x":2.075,"y":4.225,"v":44.2},{"x":2.125,"y":4.225,"v":44.3},{"x":2.175,"y":4.225,"v":44.3},{"x":2.225,"y":4.225,"v":44.2},{"x":2.275,"y":4.225,"v":44.1},{"x":2.325,"y":4.225,"v":44.0},{"x":2.375,"y":4.225,"v":43.8},{"x":2.425,"y":4.225,"v":43.5},{"x":2.475,"y":4.225,"v":43.2},{"x":2.525,"y":4.225,"v":42.8},{"x":2.575,"y":4.225,"v":42.4},{"x":2.625,"y":4.225,"v":41.9},{"x":2.675,"y":4.225,"v":41.3},{"x":2.725,"y":4.225,"v":40.7},{"x":2.775,"y":4.225,"v":40.1},{"x":2.825,"y":4.225,"v":39.3},{"x":2.875,"y":4.225,"v":38.6},{"x":2.925,"y":4.225,"v":37.7},{"x":2.975,"y":4.225,"v":36.8},
{"x":1.025,"y":4.275,"v":28.9},{"x":1.075,"y":4.275,"v":30.2},{"x":1.125,"y":4.275,"v":31.4},{"x":1.175,"y":4.275,"v":32.6},{"x":1.225,"y":4.275,"v":33.7},{"x":1.275,"y":4.275,"v":34.8},{"x":1.325,"y":4.275,"v":35.8},{"x":1.375,"y":4.275,"v":36.7},{"x":1.425,"y":4.275,"v":37.6},{"x":1.475,"y":4.275,"v":38.5},{"x":1.525,"y":4.275,"v":39.2},{"x":1.575,"y":4.275,"v":40.0},{"x":1.625,"y":4.275,"v":40.6},{"x":1.675,"y":4.275,"v":41.2},{"x":1.725,"y":4.275,"v":41.8},{"x":1.775,"y":4.275,"v":42.3},{"x":1.825,"y":4.275,"v":42.7},{"x":1.875,"y":4.275,"v":43.1},{"x":1.925,"y":4.275,"v":43.4},{"x":1.975,"y":4.275,"v":43.6},{"x":2.025,"y":4.275,"v":43.8},{"x":2.075,"y":4.275,"v":44.0},{"x":2.125,"y":4.275,"v":44.1},{"x":2.175,"y":4.275,"v":44.1},{"x":2.225,"y":4.275,"v":44.1},{"x":2.275,"y":4.275,"v":44.0},{"x":2.325,"y":4.275,"v":43.9},{"x":2.375,"y":4.275,"v":43.7},{"x":2.425,"y":4.275,"v":43.4},{"x":2.475,"y":4.275,"v":43.1},{"x":2.525,"y":4.275,"v":42.7},{"x":2.575,"y":4.275,"v":42.3},{"x":2.625,"y":4.275,"v":41.8},{"x":2.675,"y":4.275,"v":41.3},{"x":2.725,"y":4.275,"v":40.7},{"x":2.775,"y":4.275,"v":40.0},{"x":2.825,"y":4.275,"v":39.3},{"x":2.875,"y":4.275,"v":38.5},{"x":2.925,"y":4.275,"v":37.7},{"x":2.975,"y":4.275,"v":36.8},
{"x":1.025,"y":4.325,"v":28.5},{"x":1.075,"y":4.325,"v":29.8},{"x":1.125,"y":4.325,"v":31.0},{"x":1.175,"y":4.325,"v":32.2},{"x":1.225,"y":4.325,"v":33.3},{"x":1.275,"y":4.325,"v":34.4},{"x":1.325,"y":4.325,"v":35.4},{"x":1.375,"y":4.325,"v":36.4},{"x":1.425,"y":4.325,"v":37.3},{"x":1.475,"y":4.325,"v":38.1},{"x":1.525,"y":4.325,"v":38.9},{"x":1.575,"y":4.325,"v":39.6},{"x":1.625,"y":4.325,"v":40.3},{"x":1.675,"y":4.325,"v":40.9},{"x":1.725,"y":4.325,"v":41.5},{"x":1.775,"y":4.325,"v":42.0},{"x":1.825,"y":4.325,"v":42.4},{"x":1.875,"y":4.325,"v":42.8},{"x":1.925,"y":4.325,"v":43.1},{"x":1.975,"y":4.325,"v":43.4},{"x":2.025,"y":4.325,"v":43.6},{"x":2.075,"y":4.325,"v":43.8},{"x":2.125,"y":4.325,"v":43.9},{"x":2.175,"y":4.325,"v":43.9},{"x":2.225,"y":4.325,"v":43.9},{"x":2.275,"y":4.325,"v":43.8},{"x":2.325,"y":4.325,"v":43.7},{"x":2.375,"y":4.325,"v":43.5},{"x":2.425,"y":4.325,"v":43.3},{"x":2.475,"y":4.325,"v":43.0},{"x":2.525,"y":4.325,"v":42.6},{"x":2.575,"y":4.325,"v":42.2},{"x":2.625,"y":4.325,"v":41.7},{"x":2.675,"y":4.325,"v":41.2},{"x":2.725,"y":4.325,"v":40.6},{"x":2.775,"y":4.325,"v":39.9},{"x":2.825,"y":4.325,"v":39.2},{"x":2.875,"y":4.325,"v":38.5},{"x":2.925,"y":4.325,"v":37.7},{"x":2.975,"y":4.325,"v":36.8},
{"x":1.025,"y":4.375,"v":28.0},{"x":1.075,"y":4.375,"v":29.3},{"x":1.125,"y":4.375,"v":30.5},{"x":1.175,"y":4.375,"v":31.7},{"x":1.225,"y":4.375,"v":32.9},{"x":1.275,"y":4.375,"v":34.0},{"x":1.325,"y":4.375,"v":35.0},{"x":1.375,"y":4.375,"v":36.0},{"x":1.425,"y":4.375,"v":36.9},{"x":1.475,"y":4.375,"v":37.7},{"x":1.525,"y":4.375,"v":38.5},{"x":1.575,"y":4.375,"v":39.3},{"x":1.625,"y":4.375,"v":39.9},{"x":1.675,"y":4.375,"v":40.6},{"x":1.725,"y":4.375,"v":41.1},{"x":1.775,"y":4.375,"v":41.6},{"x":1.825,"y":4.375,"v":42.1},{"x":1.875,"y":4.375,"v":42.5},{"x":1.925,"y":4.375,"v":42.8},{"x":1.975,"y":4.375,"v":43.1},{"x":2.025,"y":4.375,"v":43.3},{"x":2.075,"y":4.375,"v":43.5},{"x":2.125,"y":4.375,"v":43.6},{"x":2.175,"y":4.375,"v":43.7},{"x":2.225,"y":4.375,"v":43.7},{"x":2.275,"y":4.375,"v":43.6},{"x":2.325,"y":4.375,"v":43.5},{"x":2.375,"y":4.375,"v":43.3},{"x":2.425,"y":4.375,"v":43.1},{"x":2.475,"y":4.375,"v":42.8},{"x":2.525,"y":4.375,"v":42.4},{"x":2.575,"y":4.375,"v":42.0},{"x":2.625,"y":4.375,"v":41.6},{"x":2.675,"y":4.375,"v":41.0},{"x":2.725,"y":4.375,"v":40.5},{"x":2.775,"y":4.375,"v":39.8},{"x":2.825,"y":4.375,"v":39.1},{"x":2.875,"y":4.375,"v":38.4},{"x":2.925,"y":4.375,"v":37.6},{"x":2.975,"y":4.375,"v":36.7},
{"x":1.025,"y":4.425,"v":27.4},{"x":1.075,"y":4.425,"v":28.8},{"x":1.125,"y":4.425,"v":30.0},{"x":1.175,"y":4.425,"v":31.2},{"x":1.225,"y":4.425,"v":32.4},{"x":1.275,"y":4.425,"v":33.5},{"x":1.325,"y":4.425,"v":34.5},{"x":1.375,"y":4.425,"v":35.5},{"x":1.425,"y":4.425,"v":36.4},{"x":1.475,"y":4.425,"v":37.3},{"x":1.525,"y":4.425,"v":38.1},{"x":1.575,"y":4.425,"v":38.8},{"x":1.625,"y":4.425,"v":39.5},{"x":1.675,"y":4.425,"v":40.2},{"x":1.725,"y":4.425,"v":40.7},{"x":1.775,"y":4.425,"v":41.3},{"x":1.825,"y":4.425,"v":41.7},{"x":1.875,"y":4.425,"v":42.1},{"x":1.925,"y":4.425,"v":42.5},{"x":1.975,"y":4.425,"v":42.8},{"x":2.025,"y":4.425,"v":43.0},{"x":2.075,"y":4.425,"v":43.2},{"x":2.125,"y":4.425,"v":43.3},{"x":2.175,"y":4.425,"v":43.4},{"x":2.225,"y":4.425,"v":43.4},{"x":2.275,"y":4.425,"v":43.3},{"x":2.325,"y":4.425,"v":43.2},{"x":2.375,"y":4.425,"v":43.0},{"x":2.425,"y":4.425,"v":42.8},{"x":2.475,"y":4.425,"v":42.5},{"x":2.525,"y":4.425,"v":42.2},{"x":2.575,"y":4.425,"v":41.8},{"x":2.625,"y":4.425,"v":41.4},{"x":2.675,"y":4.425,"v":40.8},{"x":2.725,"y":4.425,"v":40.3},{"x":2.775,"y":4.425,"v":39.7},{"x":2.825,"y":4.425,"v":39.0},{"x":2.875,"y":4.425,"v":38.2},{"x":2.925,"y":4.425,"v":37.4},{"x":2.975,"y":4.425,"v":36.6},
{"x":1.025,"y":4.475,"v":26.9},{"x":1.075,"y":4.475,"v":28.2},{"x":1.125,"y":4.475,"v":29.5},{"x":1.175,"y":4.475,"v":30.7},{"x":1.225,"y":4.475,"v":31.9},{"x":1.275,"y":4.475,"v":33.0},{"x":1.325,"y":4.475,"v":34.0},{"x":1.375,"y":4.475,"v":35.0},{"x":1.425,"y":4.475,"v":35.9},{"x":1.475,"y":4.475,"v":36.8},{"x":1.525,"y":4.475,"v":37.6},{"x":1.575,"y":4.475,"v":38.4},{"x":1.625,"y":4.475,"v":39.1},{"x":1.675,"y":4.475,"v":39.7},{"x":1.725,"y":4.475,"v":40.3},{"x":1.775,"y":4.475,"v":40.8},{"x":1.825,"y":4.475,"v":41.3},{"x":1.875,"y":4.475,"v":41.7},{"x":1.925,"y":4.475,"v":42.1},{"x":1.975,"y":4.475,"v":42.4},{"x":2.025,"y":4.475,"v":42.6},{"x":2.075,"y":4.475,"v":42.8},{"x":2.125,"y":4.475,"v":43.0},{"x":2.175,"y":4.475,"v":43.0},{"x":2.225,"y":4.475,"v":43.0},{"x":2.275,"y":4.475,"v":43.0},{"x":2.325,"y":4.475,"v":42.9},{"x":2.375,"y":4.475,"v":42.7},{"x":2.425,"y":4.475,"v":42.5},{"x":2.475,"y":4.475,"v":42.3},{"x":2.525,"y":4.475,"v":41.9},{"x":2.575,"y":4.475,"v":41.5},{"x":2.625,"y":4.475,"v":41.1},{"x":2.675,"y":4.475,"v":40.6},{"x":2.725,"y":4.475,"v":40.0},{"x":2.775,"y":4.475,"v":39.4},{"x":2.825,"y":4.475,"v":38.8},{"x":2.875,"y":4.475,"v":38.0},{"x":2.925,"y":4.475,"v":37.2},{"x":2.975,"y":4.475,"v":36.4},
{"x":1.025,"y":4.525,"v":26.2},{"x":1.075,"y":4.525,"v":27.6},{"x":1.125,"y":4.525,"v":28.9},{"x":1.175,"y":4.525,"v":30.1},{"x":1.225,"y":4.525,"v":31.3},{"x":1.275,"y":4.525,"v":32.4},{"x":1.325,"y":4.525,"v":33.4},{"x":1.375,"y":4.525,"v":34.4},{"x":1.425,"y":4.525,"v":35.4},{"x":1.475,"y":4.525,"v":36.3},{"x":1.525,"y":4.525,"v":37.1},{"x":1.575,"y":4.525,"v":37.9},{"x":1.625,"y":4.525,"v":38.6},{"x":1.675,"y":4.525,"v":39.2},{"x":1.725,"y":4.525,"v":39.8},{"x":1.775,"y":4.525,"v":40.4},{"x":1.825,"y":4.525,"v":40.9},{"x":1.875,"y":4.525,"v":41.3},{"x":1.925,"y":4.525,"v":41.7},{"x":1.975,"y":4.525,"v":42.0},{"x":2.025,"y":4.525,"v":42.2},{"x":2.075,"y":4.525,"v":42.4},{"x":2.125,"y":4.525,"v":42.6},{"x":2.175,"y":4.525,"v":42.6},{"x":2.225,"y":4.525,"v":42.7},{"x":2.275,"y":4.525,"v":42.6},{"x":2.325,"y":4.525,"v":42.5},{"x":2.375,"y":4.525,"v":42.4},{"x":2.425,"y":4.525,"v":42.2},{"x":2.475,"y":4.525,"v":41.9},{"x":2.525,"y":4.525,"v":41.6},{"x":2.575,"y":4.525,"v":41.2},{"x":2.625,"y":4.525,"v":40.8},{"x":2.675,"y":4.525,"v":40.3},{"x":2.725,"y":4.525,"v":39.8},{"x":2.775,"y":4.525,"v":39.2},{"x":2.825,"y":4.525,"v":38.5},{"x":2.875,"y":4.525,"v":37.8},{"x":2.925,"y":4.525,"v":37.0},{"x":2.975,"y":4.525,"v":36.2},
{"x":1.025,"y":4.575,"v":25.6},{"x":1.075,"y":4.575,"v":26.9},{"x":1.125,"y":4.575,"v":28.2},{"x":1.175,"y":4.575,"v":29.5},{"x":1.225,"y":4.575,"v":30.6},{"x":1.275,"y":4.575,"v":31.8},{"x":1.325,"y":4.575,"v":32.8},{"x":1.375,"y":4.575,"v":33.8},{"x":1.425,"y":4.575,"v":34.8},{"x":1.475,"y":4.575,"v":35.7},{"x":1.525,"y":4.575,"v":36.5},{"x":1.575,"y":4.575,"v":37.3},{"x":1.625,"y":4.575,"v":38.0},{"x":1.675,"y":4.575,"v":38.7},{"x":1.725,"y":4.575,"v":39.3},{"x":1.775,"y":4.575,"v":39.9},{"x":1.825,"y":4.575,"v":40.4},{"x":1.875,"y":4.575,"v":40.8},{"x":1.925,"y":4.575,"v":41.2},{"x":1.975,"y":4.575,"v":41.5},{"x":2.025,"y":4.575,"v":41.8},{"x":2.075,"y":4.575,"v":42.0},{"x":2.125,"y":4.575,"v":42.1},{"x":2.175,"y":4.575,"v":42.2},{"x":2.225,"y":4.575,"v":42.2},{"x":2.275,"y":4.575,"v":42.2},{"x":2.325,"y":4.575,"v":42.1},{"x":2.375,"y":4.575,"v":42.0},{"x":2.425,"y":4.575,"v":41.8},{"x":2.475,"y":4.575,"v":41.6},{"x":2.525,"y":4.575,"v":41.3},{"x":2.575,"y":4.575,"v":40.9},{"x":2.625,"y":4.575,"v":40.5},{"x":2.675,"y":4.575,"v":40.0},{"x":2.725,"y":4.575,"v":39.5},{"x":2.775,"y":4.575,"v":38.9},{"x":2.825,"y":4.575,"v":38.2},{"x":2.875,"y":4.575,"v":37.5},{"x":2.925,"y":4.575,"v":36.7},{"x":2.975,"y":4.575,"v":35.9},
{"x":1.025,"y":4.625,"v":24.9},{"x":1.075,"y":4.625,"v":26.2},{"x":1.125,"y":4.625,"v":27.5},{"x":1.175,"y":4.625,"v":28.8},{"x":1.225,"y":4.625,"v":30.0},{"x":1.275,"y":4.625,"v":31.1},{"x":1.325,"y":4.625,"v":32.2},{"x":1.375,"y":4.625,"v":33.2},{"x":1.425,"y":4.625,"v":34.2},{"x":1.475,"y":4.625,"v":35.1},{"x":1.525,"y":4.625,"v":35.9},{"x":1.575,"y":4.625,"v":36.7},{"x":1.625,"y":4.625,"v":37.4},{"x":1.675,"y":4.625,"v":38.1},{"x":1.725,"y":4.625,"v":38.7},{"x":1.775,"y":4.625,"v":39.3},{"x":1.825,"y":4.625,"v":39.8},{"x":1.875,"y":4.625,"v":40.2},{"x":1.925,"y":4.625,"v":40.6},{"x":1.975,"y":4.625,"v":41.0},{"x":2.025,"y":4.625,"v":41.2},{"x":2.075,"y":4.625,"v":41.5},{"x":2.125,"y":4.625,"v":41.6},{"x":2.175,"y":4.625,"v":41.7},{"x":2.225,"y":4.625,"v":41.8},{"x":2.275,"y":4.625,"v":41.8},{"x":2.325,"y":4.625,"v":41.7},{"x":2.375,"y":4.625,"v":41.6},{"x":2.425,"y":4.625,"v":41.4},{"x":2.475,"y":4.625,"v":41.1},{"x":2.525,"y":4.625,"v":40.8},{"x":2.575,"y":4.625,"v":40.5},{"x":2.625,"y":4.625,"v":40.1},{"x":2.675,"y":4.625,"v":39.6},{"x":2.725,"y":4.625,"v":39.1},{"x":2.775,"y":4.625,"v":38.5},{"x":2.825,"y":4.625,"v":37.9},{"x":2.875,"y":4.625,"v":37.2},{"x":2.925,"y":4.625,"v":36.4},{"x":2.975,"y":4.625,"v":35.6},
{"x":1.025,"y":4.675,"v":24.1},{"x":1.075,"y":4.675,"v":25.5},{"x":1.125,"y":4.675,"v":26.8},{"x":1.175,"y":4.675,"v":28.0},{"x":1.225,"y":4.675,"v":29.2},{"x":1.275,"y":4.675,"v":30.4},{"x":1.325,"y":4.675,"v":31.5},{"x":1.375,"y":4.675,"v":32.5},{"x":1.425,"y":4.675,"v":33.5},{"x":1.475,"y":4.675,"v":34.4},{"x":1.525,"y":4.675,"v":35.3},{"x":1.575,"y":4.675,"v":36.1},{"x":1.625,"y":4.675,"v":36.8},{"x":1.675,"y":4.675,"v":37.5},{"x":1.725,"y":4.675,"v":38.1},{"x":1.775,"y":4.675,"v":38.7},{"x":1.825,"y":4.675,"v":39.2},{"x":1.875,"y":4.675,"v":39.7},{"x":1.925,"y":4.675,"v":40.1},{"x":1.975,"y":4.675,"v":40.4},{"x":2.025,"y":4.675,"v":40.7},{"x":2.075,"y":4.675,"v":40.9},{"x":2.125,"y":4.675,"v":41.1},{"x":2.175,"y":4.675,"v":41.2},{"x":2.225,"y":4.675,"v":41.3},{"x":2.275,"y":4.675,"v":41.3},{"x":2.325,"y":4.675,"v":41.2},{"x":2.375,"y":4.675,"v":41.1},{"x":2.425,"y":4.675,"v":40.9},{"x":2.475,"y":4.675,"v":40.7},{"x":2.525,"y":4.675,"v":40.4},{"x":2.575,"y":4.675,"v":40.0},{"x":2.625,"y":4.675,"v":39.6},{"x":2.675,"y":4.675,"v":39.2},{"x":2.725,"y":4.675,"v":38.7},{"x":2.775,"y":4.675,"v":38.1},{"x":2.825,"y":4.675,"v":37.5},{"x":2.875,"y":4.675,"v":36.8},{"x":2.925,"y":4.675,"v":36.0},{"x":2.975,"y":4.675,"v":35.2},
{"x":1.025,"y":4.725,"v":23.3},{"x":1.075,"y":4.725,"v":24.7},{"x":1.125,"y":4.725,"v":26.0},{"x":1.175,"y":4.725,"v":27.3},{"x":1.225,"y":4.725,"v":28.5},{"x":1.275,"y":4.725,"v":29.6},{"x":1.325,"y":4.725,"v":30.7},{"x":1.375,"y":4.725,"v":31.8},{"x":1.425,"y":4.725,"v":32.7},{"x":1.475,"y":4.725,"v":33.7},{"x":1.525,"y":4.725,"v":34.5},{"x":1.575,"y":4.725,"v":35.4},{"x":1.625,"y":4.725,"v":36.1},{"x":1.675,"y":4.725,"v":36.8},{"x":1.725,"y":4.725,"v":37.4},{"x":1.775,"y":4.725,"v":38.0},{"x":1.825,"y":4.725,"v":38.6},{"x":1.875,"y":4.725,"v":39.0},{"x":1.925,"y":4.725,"v":39.4},{"x":1.975,"y":4.725,"v":39.8},{"x":2.025,"y":4.725,"v":40.1},{"x":2.075,"y":4.725,"v":40.3},{"x":2.125,"y":4.725,"v":40.5},{"x":2.175,"y":4.725,"v":40.6},{"x":2.225,"y":4.725,"v":40.7},{"x":2.275,"y":4.725,"v":40.7},{"x":2.325,"y":4.725,"v":40.7},{"x":2.375,"y":4.725,"v":40.5},{"x":2.425,"y":4.725,"v":40.4},{"x":2.475,"y":4.725,"v":40.2},{"x":2.525,"y":4.725,"v":39.9},{"x":2.575,"y":4.725,"v":39.6},{"x":2.625,"y":4.725,"v":39.2},{"x":2.675,"y":4.725,"v":38.7},{"x":2.725,"y":4.725,"v":38.2},{"x":2.775,"y":4.725,"v":37.6},{"x":2.825,"y":4.725,"v":37.0},{"x":2.875,"y":4.725,"v":36.3},{"x":2.925,"y":4.725,"v":35.6},{"x":2.975,"y":4.725,"v":34.8},
{"x":1.025,"y":4.775,"v":22.4},{"x":1.075,"y":4.775,"v":23.8},{"x":1.125,"y":4.775,"v":25.2},{"x":1.175,"y":4.775,"v":26.4},{"x":1.225,"y":4.775,"v":27.7},{"x":1.275,"y":4.775,"v":28.8},{"x":1.325,"y":4.775,"v":29.9},{"x":1.375,"y":4.775,"v":31.0},{"x":1.425,"y":4.775,"v":32.0},{"x":1.475,"y":4.775,"v":32.9},{"x":1.525,"y":4.775,"v":33.8},{"x":1.575,"y":4.775,"v":34.6},{"x":1.625,"y":4.775,"v":35.4},{"x":1.675,"y":4.775,"v":36.1},{"x":1.725,"y":4.775,"v":36.7},{"x":1.775,"y":4.775,"v":37.3},{"x":1.825,"y":4.775,"v":37.9},{"x":1.875,"y":4.775,"v":38.3},{"x":1.925,"y":4.775,"v":38.8},{"x":1.975,"y":4.775,"v":39.1},{"x":2.025,"y":4.775,"v":39.4},{"x":2.075,"y":4.775,"v":39.7},{"x":2.125,"y":4.775,"v":39.9},{"x":2.175,"y":4.775,"v":40.0},{"x":2.225,"y":4.775,"v":40.1},{"x":2.275,"y":4.775,"v":40.1},{"x":2.325,"y":4.775,"v":40.1},{"x":2.375,"y":4.775,"v":40.0},{"x":2.425,"y":4.775,"v":39.8},{"x":2.475,"y":4.775,"v":39.6},{"x":2.525,"y":4.775,"v":39.3},{"x":2.575,"y":4.775,"v":39.0},{"x":2.625,"y":4.775,"v":38.6},{"x":2.675,"y":4.775,"v":38.2},{"x":2.725,"y":4.775,"v":37.7},{"x":2.775,"y":4.775,"v":37.1},{"x":2.825,"y":4.775,"v":36.5},{"x":2.875,"y":4.775,"v":35.9},{"x":2.925,"y":4.775,"v":35.1},{"x":2.975,"y":4.775,"v":34.4},
{"x":1.025,"y":4.825,"v":21.5},{"x":1.075,"y":4.825,"v":22.9},{"x":1.125,"y":4.825,"v":24.3},{"x":1.175,"y":4.825,"v":25.6},{"x":1.225,"y":4.825,"v":26.8},{"x":1.275,"y":4.825,"v":28.0},{"x":1.325,"y":4.825,"v":29.1},{"x":1.375,"y":4.825,"v":30.2},{"x":1.425,"y":4.825,"v":31.2},{"x":1.475,"y":4.825,"v":32.1},{"x":1.525,"y":4.825,"v":33.0},{"x":1.575,"y":4.825,"v":33.8},{"x":1.625,"y":4.825,"v":34.6},{"x":1.675,"y":4.825,"v":35.3},{"x":1.725,"y":4.825,"v":36.0},{"x":1.775,"y":4.825,"v":36.6},{"x":1.825,"y":4.825,"v":37.1},{"x":1.875,"y":4.825,"v":37.6},{"x":1.925,"y":4.825,"v":38.0},{"x":1.975,"y":4.825,"v":38.4},{"x":2.025,"y":4.825,"v":38.7},{"x":2.075,"y":4.825,"v":39.0},{"x":2.125,"y":4.825,"v":39.2},{"x":2.175,"y":4.825,"v":39.3},{"x":2.225,"y":4.825,"v":39.4},{"x":2.275,"y":4.825,"v":39.5},{"x":2.325,"y":4.825,"v":39.4},{"x":2.375,"y":4.825,"v":39.3},{"x":2.425,"y":4.825,"v":39.2},{"x":2.475,"y":4.825,"v":39.0},{"x":2.525,"y":4.825,"v":38.7},{"x":2.575,"y":4.825,"v":38.4},{"x":2.625,"y":4.825,"v":38.1},{"x":2.675,"y":4.825,"v":37.6},{"x":2.725,"y":4.825,"v":37.1},{"x":2.775,"y":4.825,"v":36.6},{"x":2.825,"y":4.825,"v":36.0},{"x":2.875,"y":4.825,"v":35.3},{"x":2.925,"y":4.825,"v":34.6},{"x":2.975,"y":4.825,"v":33.9},
{"x":1.025,"y":4.875,"v":20.6},{"x":1.075,"y":4.875,"v":22.0},{"x":1.125,"y":4.875,"v":23.3},{"x":1.175,"y":4.875,"v":24.6},{"x":1.225,"y":4.875,"v":25.9},{"x":1.275,"y":4.875,"v":27.1},{"x":1.325,"y":4.875,"v":28.2},{"x":1.375,"y":4.875,"v":29.3},{"x":1.425,"y":4.875,"v":30.3},{"x":1.475,"y":4.875,"v":31.2},{"x":1.525,"y":4.875,"v":32.1},{"x":1.575,"y":4.875,"v":33.0},{"x":1.625,"y":4.875,"v":33.8},{"x":1.675,"y":4.875,"v":34.5},{"x":1.725,"y":4.875,"v":35.2},{"x":1.775,"y":4.875,"v":35.8},{"x":1.825,"y":4.875,"v":36.3},{"x":1.875,"y":4.875,"v":36.8},{"x":1.925,"y":4.875,"v":37.3},{"x":1.975,"y":4.875,"v":37.7},{"x":2.025,"y":4.875,"v":38.0},{"x":2.075,"y":4.875,"v":38.3},{"x":2.125,"y":4.875,"v":38.5},{"x":2.175,"y":4.875,"v":38.6},{"x":2.225,"y":4.875,"v":38.7},{"x":2.275,"y":4.875,"v":38.8},{"x":2.325,"y":4.875,"v":38.7},{"x":2.375,"y":4.875,"v":38.7},{"x":2.425,"y":4.875,"v":38.5},{"x":2.475,"y":4.875,"v":38.3},{"x":2.525,"y":4.875,"v":38.1},{"x":2.575,"y":4.875,"v":37.8},{"x":2.625,"y":4.875,"v":37.4},{"x":2.675,"y":4.875,"v":37.0},{"x":2.725,"y":4.875,"v":36.5},{"x":2.775,"y":4.875,"v":36.0},{"x":2.825,"y":4.875,"v":35.4},{"x":2.875,"y":4.875,"v":34.8},{"x":2.925,"y":4.875,"v":34.1},{"x":2.975,"y":4.875,"v":33.3},
{"x":1.025,"y":4.925,"v":19.6},{"x":1.075,"y":4.925,"v":21.0},{"x":1.125,"y":4.925,"v":22.4},{"x":1.175,"y":4.925,"v":23.7},{"x":1.225,"y":4.925,"v":24.9},{"x":1.275,"y":4.925,"v":26.1},{"x":1.325,"y":4.925,"v":27.3},{"x":1.375,"y":4.925,"v":28.3},{"x":1.425,"y":4.925,"v":29.4},{"x":1.475,"y":4.925,"v":30.3},{"x":1.525,"y":4.925,"v":31.2},{"x":1.575,"y":4.925,"v":32.1},{"x":1.625,"y":4.925,"v":32.9},{"x":1.675,"y":4.925,"v":33.6},{"x":1.725,"y":4.925,"v":34.3},{"x":1.775,"y":4.925,"v":34.9},{"x":1.825,"y":4.925,"v":35.5},{"x":1.875,"y":4.925,"v":36.0},{"x":1.925,"y":4.925,"v":36.5},{"x":1.975,"y":4.925,"v":36.9},{"x":2.025,"y":4.925,"v":37.2},{"x":2.075,"y":4.925,"v":37.5},{"x":2.125,"y":4.925,"v":37.7},{"x":2.175,"y":4.925,"v":37.9},{"x":2.225,"y":4.925,"v":38.0},{"x":2.275,"y":4.925,"v":38.0},{"x":2.325,"y":4.925,"v":38.0},{"x":2.375,"y":4.925,"v":37.9},{"x":2.425,"y":4.925,"v":37.8},{"x":2.475,"y":4.925,"v":37.6},{"x":2.525,"y":4.925,"v":37.4},{"x":2.575,"y":4.925,"v":37.1},{"x":2.625,"y":4.925,"v":36.8},{"x":2.675,"y":4.925,"v":36.4},{"x":2.725,"y":4.925,"v":35.9},{"x":2.775,"y":4.925,"v":35.4},{"x":2.825,"y":4.925,"v":34.8},{"x":2.875,"y":4.925,"v":34.2},{"x":2.925,"y":4.925,"v":33.5},{"x":2.975,"y":4.925,"v":32.7},
{"x":1.025,"y":4.975,"v":18.5},{"x":1.075,"y":4.975,"v":20.0},{"x":1.125,"y":4.975,"v":21.3},{"x":1.175,"y":4.975,"v":22.7},{"x":1.225,"y":4.975,"v":23.9},{"x":1.275,"y":4.975,"v":25.1},{"x":1.325,"y":4.975,"v":26.3},{"x":1.375,"y":4.975,"v":27.4},{"x":1.425,"y":4.975,"v":28.4},{"x":1.475,"y":4.975,"v":29.4},{"x":1.525,"y":4.975,"v":30.3},{"x":1.575,"y":4.975,"v":31.2},{"x":1.625,"y":4.975,"v":32.0},{"x":1.675,"y":4.975,"v":32.7},{"x":1.725,"y":4.975,"v":33.4},{"x":1.775,"y":4.975,"v":34.0},{"x":1.825,"y":4.975,"v":34.6},{"x":1.875,"y":4.975,"v":35.1},{"x":1.925,"y":4.975,"v":35.6},{"x":1.975,"y":4.975,"v":36.0},{"x":2.025,"y":4.975,"v":36.4},{"x":2.075,"y":4.975,"v":36.6},{"x":2.125,"y":4.975,"v":36.9},{"x":2.175,"y":4.975,"v":37.1},{"x":2.225,"y":4.975,"v":37.2},{"x":2.275,"y":4.975,"v":37.2},{"x":2.325,"y":4.975,"v":37.2},{"x":2.375,"y":4.975,"v":37.2},{"x":2.425,"y":4.975,"v":37.1},{"x":2.475,"y":4.975,"v":36.9},{"x":2.525,"y":4.975,"v":36.7},{"x":2.575,"y":4.975,"v":36.4},{"x":2.625,"y":4.975,"v":36.1},{"x":2.675,"y":4.975,"v":35.7},{"x":2.725,"y":4.975,"v":35.2},{"x":2.775,"y":4.975,"v":34.7},{"x":2.825,"y":4.975,"v":34.1},{"x":2.875,"y":4.975,"v":33.5},{"x":2.925,"y":4.975,"v":32.8},{"x":2.975,"y":4.975,"v":32.1}
],
"contours": [
{"level":"39.86","t":0,"x":2.789,"y":4.219},{"level":"39.86","t":15,"x":2.767,"y":4.396},{"level":"39.86","t":30,"x":2.702,"y":4.551},{"level":"39.86","t":45,"x":2.600,"y":4.674},{"level":"39.86","t":60,"x":2.466,"y":4.757},{"level":"39.86","t":75,"x":2.310,"y":4.793},{"level":"39.86","t":90,"x":2.142,"y":4.780},{"level":"39.86","t":105,"x":1.975,"y":4.719},{"level":"39.86","t":120,"x":1.818,"y":4.614},{"level":"39.86","t":135,"x":1.684,"y":4.473},{"level":"39.86","t":150,"x":1.582,"y":4.305},{"level":"39.86","t":165,"x":1.517,"y":4.121},{"level":"39.86","t":180,"x":1.495,"y":3.934},{"level":"39.86","t":195,"x":1.517,"y":3.756},{"level":"39.86","t":210,"x":1.582,"y":3.601},{"level":"39.86","t":225,"x":1.684,"y":3.478},{"level":"39.86","t":240,"x":1.818,"y":3.395},{"level":"39.86","t":255,"x":1.975,"y":3.359},{"level":"39.86","t":270,"x":2.142,"y":3.372},{"level":"39.86","t":285,"x":2.310,"y":3.433},{"level":"39.86","t":300,"x":2.466,"y":3.538},{"level":"39.86","t":315,"x":2.600,"y":3.679},{"level":"39.86","t":330,"x":2.702,"y":3.848},{"level":"39.86","t":345,"x":2.767,"y":4.032},{"level":"39.86","t":360,"x":2.789,"y":4.219},
{"level":"35.25","t":0,"x":3.057,"y":4.278},{"level":"35.25","t":15,"x":3.026,"y":4.528},{"level":"35.25","t":30,"x":2.935,"y":4.748},{"level":"35.25","t":45,"x":2.789,"y":4.922},{"level":"35.25","t":60,"x":2.600,"y":5.039},{"level":"35.25","t":75,"x":2.379,"y":5.089},{"level":"35.25","t":90,"x":2.142,"y":5.071},{"level":"35.25","t":105,"x":1.905,"y":4.985},{"level":"35.25","t":120,"x":1.684,"y":4.837},{"level":"35.25","t":135,"x":1.495,"y":4.637},{"level":"35.25","t":150,"x":1.350,"y":4.399},{"level":"35.25","t":165,"x":1.258,"y":4.139},{"level":"35.25","t":180,"x":1.227,"y":3.875},{"level":"35.25","t":195,"x":1.258,"y":3.624},{"level":"35.25","t":210,"x":1.350,"y":3.404},{"level":"35.25","t":225,"x":1.495,"y":3.230},{"level":"35.25","t":240,"x":1.684,"y":3.113},{"level":"35.25","t":255,"x":1.905,"y":3.063},{"level":"35.25","t":270,"x":2.142,"y":3.081},{"level":"35.25","t":285,"x":2.379,"y":3.167},{"level":"35.25","t":300,"x":2.600,"y":3.315},{"level":"35.25","t":315,"x":2.789,"y":3.515},{"level":"35.25","t":330,"x":2.935,"y":3.753},{"level":"35.25","t":345,"x":3.026,"y":4.013},{"level":"35.25","t":360,"x":3.057,"y":4.278},
{"level":"30.65","t":0,"x":3.263,"y":4.323},{"level":"30.65","t":15,"x":3.225,"y":4.630},{"level":"30.65","t":30,"x":3.113,"y":4.899},{"level":"30.65","t":45,"x":2.935,"y":5.113},{"level":"30.65","t":60,"x":2.703,"y":5.255},{"level":"30.65","t":75,"x":2.432,"y":5.317},{"level":"30.65","t":90,"x":2.142,"y":5.295},{"level":"30.65","t":105,"x":1.852,"y":5.189},{"level":"30.65","t":120,"x":1.582,"y":5.008},{"level":"30.65","t":135,"x":1.349,"y":4.763},{"level":"30.65","t":150,"x":1.171,"y":4.472},{"level":"30.65","t":165,"x":1.059,"y":4.153},{"level":"30.65","t":180,"x":1.021,"y":3.829},{"level":"30.65","t":195,"x":1.059,"y":3.522},{"level":"30.65","t":210,"x":1.171,"y":3.253},{"level":"30.65","t":225,"x":1.349,"y":3.040},{"level":"30.65","t":240,"x":1.582,"y":2.897},{"level":"30.65","t":255,"x":1.852,"y":2.835},{"level":"30.65","t":270,"x":2.142,"y":2.857},{"level":"30.65","t":285,"x":2.432,"y":2.963},{"level":"30.65","t":300,"x":2.703,"y":3.144},{"level":"30.65","t":315,"x":2.935,"y":3.389},{"level":"30.65","t":330,"x":3.113,"y":3.680},{"level":"30.65","t":345,"x":3.225,"y":3.999},{"level":"30.65","t":360,"x":3.263,"y":4.323},
{"level":"26.04","t":0,"x":3.436,"y":4.361},{"level":"26.04","t":15,"x":3.392,"y":4.715},{"level":"26.04","t":30,"x":3.263,"y":5.027},{"level":"26.04","t":45,"x":3.057,"y":5.273},{"level":"26.04","t":60,"x":2.789,"y":5.437},{"level":"26.04","t":75,"x":2.477,"y":5.509},{"level":"26.04","t":90,"x":2.142,"y":5.483},{"level":"26.04","t":105,"x":1.807,"y":5.362},{"level":"26.04","t":120,"x":1.495,"y":5.152},{"level":"26.04","t":135,"x":1.227,"y":4.870},{"level":"26.04","t":150,"x":1.021,"y":4.533},{"level":"26.04","t":165,"x":0.892,"y":4.165},{"level":"26.04","t":180,"x":0.848,"y":3.791},{"level":"26.04","t":195,"x":0.892,"y":3.437},{"level":"26.04","t":210,"x":1.021,"y":3.125},{"level":"26.04","t":225,"x":1.227,"y":2.879},{"level":"26.04","t":240,"x":1.495,"y":2.715},{"level":"26.04","t":255,"x":1.807,"y":2.643},{"level":"26.04","t":270,"x":2.142,"y":2.669},{"level":"26.04","t":285,"x":2.477,"y":2.790},{"level":"26.04","t":300,"x":2.789,"y":3.000},{"level":"26.04","t":315,"x":3.057,"y":3.282},{"level":"26.04","t":330,"x":3.263,"y":3.619},{"level":"26.04","t":345,"x":3.392,"y":3.987},{"level":"26.04","t":360,"x":3.436,"y":4.361},
{"level":"21.44","t":0,"x":3.589,"y":4.395},{"level":"21.44","t":15,"x":3.540,"y":4.791},{"level":"21.44","t":30,"x":3.395,"y":5.139},{"level":"21.44","t":45,"x":3.165,"y":5.414},{"level":"21.44","t":60,"x":2.866,"y":5.598},{"level":"21.44","t":75,"x":2.517,"y":5.678},{"level":"21.44","t":90,"x":2.142,"y":5.650},{"level":"21.44","t":105,"x":1.767,"y":5.513},{"level":"21.44","t":120,"x":1.419,"y":5.279},{"level":"21.44","t":135,"x":1.119,"y":4.963},{"level":"21.44","t":150,"x":0.889,"y":4.587},{"level":"21.44","t":165,"x":0.744,"y":4.176},{"level":"21.44","t":180,"x":0.695,"y":3.757},{"level":"21.44","t":195,"x":0.744,"y":3.361},{"level":"21.44","t":210,"x":0.889,"y":3.013},{"level":"21.44","t":225,"x":1.119,"y":2.738},{"level":"21.44","t":240,"x":1.419,"y":2.554},{"level":"21.44","t":255,"x":1.767,"y":2.474},{"level":"21.44","t":270,"x":2.142,"y":2.502},{"level":"21.44","t":285,"x":2.517,"y":2.638},{"level":"21.44","t":300,"x":2.866,"y":2.873},{"level":"21.44","t":315,"x":3.165,"y":3.129},{"level":"21.44","t":330,"x":3.395,"y":3.489},{"level":"21.44","t":345,"x":3.540,"y":3.885},{"level":"21.44","t":360,"x":3.589,"y":4.395}
],
"labels": [
{"label":"21.44","x":1.10,"y":4.944},
{"label":"26.04","x":1.152,"y":4.793},
{"label":"30.65","x":1.10,"y":4.24},
{"label":"35.25","x":2.868,"y":4.889},
{"label":"39.86","x":1.798,"y":3.437},
{"label":"35.25","x":1.444,"y":3.30},
{"label":"30.65","x":2.748,"y":3.237},
{"label":"26.04","x":2.895,"y":3.156}
]
},
"layer": [
{"data": {"name": "grid"},
 "mark": {"type": "rect", "strokeWidth": 0.5},
 "encoding": {
  "x": {"field": "x", "type": "quantitative", "bin": {"step": 0.05, "extent": [1, 3]},
        "scale": {"domain": [1, 3], "nice": false, "zero": false},
        "axis": {"values": [1, 1.5, 2, 2.5, 3], "format": ".2f", "labelFont": "Liberation Sans", "labelFontSize": 15, "labelColor": "#000", "tickColor": "#666", "tickSize": 10, "domainColor": "#777", "labelPadding": 3, "labelFlush": false, "labelOverlap": false, "titleFont": "Liberation Serif", "titleFontSize": 20, "titleFontWeight": "normal", "titleColor": "#000", "titlePadding": 11},
        "title": "Flow rate (L/min)"},
  "y": {"field": "y", "type": "quantitative", "bin": {"step": 0.05, "extent": [3, 5]},
        "scale": {"domain": [3, 5], "nice": false, "zero": false},
        "axis": {"values": [3, 3.5, 4, 4.5, 5], "format": ".2f", "labelFont": "Liberation Sans", "labelFontSize": 15, "labelColor": "#000", "tickColor": "#666", "tickSize": 12, "domainColor": "#999", "labelPadding": 6, "labelFlush": false, "labelOverlap": false, "titleFont": "Liberation Serif", "titleFontSize": 20, "titleFontWeight": "normal", "titleColor": "#000", "titlePadding": 34},
        "title": "Operating time (h)"},
  "color": {"field": "v", "type": "quantitative", "legend": null,
            "scale": {"domain": [16.83, 23.74, 30.65, 37.56, 44.47], "range": ["#0000ff", "#00ffff", "#00ff00", "#ffff00", "#ff0000"], "interpolate": "rgb"}},
  "stroke": {"field": "v", "type": "quantitative", "legend": null,
            "scale": {"domain": [16.83, 23.74, 30.65, 37.56, 44.47], "range": ["#0000ff", "#00ffff", "#00ff00", "#ffff00", "#ff0000"], "interpolate": "rgb"}}
 }},
{"data": {"name": "contours"},
 "mark": {"type": "line", "clip": true, "interpolate": "catmull-rom", "color": "#2b2b2b", "strokeWidth": 1},
 "encoding": {
  "x": {"field": "x", "type": "quantitative"},
  "y": {"field": "y", "type": "quantitative"},
  "detail": {"field": "level", "type": "nominal"},
  "order": {"field": "t", "type": "quantitative"}
 }},
{"data": {"name": "labels"},
 "mark": {"type": "point", "shape": "M-1,-0.22H1V0.22H-1Z", "size": 2116, "filled": true, "fill": "#ffffff", "stroke": "#444444", "strokeWidth": 0.8, "opacity": 1},
 "encoding": {
  "x": {"field": "x", "type": "quantitative"},
  "y": {"field": "y", "type": "quantitative"}
 }},
{"data": {"name": "labels"},
 "mark": {"type": "text", "font": "Liberation Serif", "fontSize": 12, "color": "#111", "align": "center", "baseline": "middle"},
 "encoding": {
  "x": {"field": "x", "type": "quantitative"},
  "y": {"field": "y", "type": "quantitative"},
  "text": {"field": "label", "type": "nominal"}
 }}
]
}
